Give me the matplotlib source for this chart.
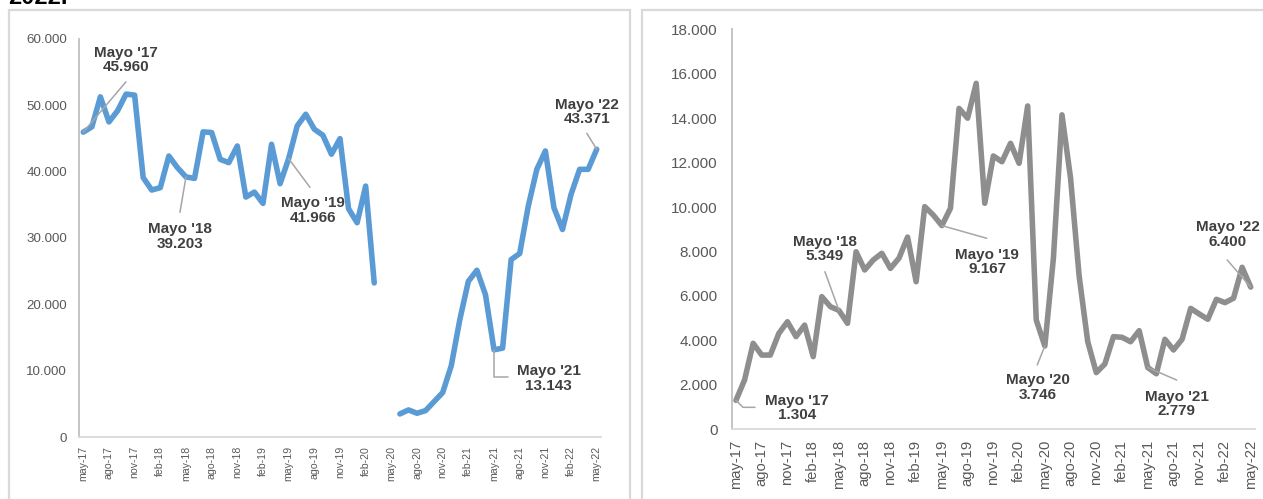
import matplotlib
matplotlib.use("Agg")
import matplotlib.pyplot as plt
from matplotlib.patches import Rectangle
import numpy as np

plt.rcParams['font.family'] = ['Liberation Sans', 'DejaVu Sans']

# ---- categories ----
month_abbr = ["ene", "feb", "mar", "abr", "may", "jun", "jul", "ago", "sep", "oct", "nov", "dic"]
months = []
y, m = 2017, 4
for _ in range(61):
    months.append(f"{month_abbr[m]}-{str(y)[2:]}")
    m += 1
    if m == 12:
        m, y = 0, y + 1

# ---- left series (None = no data) ----
left_values = [45960, 46750, 51280, 47500, 49170, 51690, 51540, 39100, 37230, 37590,
               42360, 40610, 39203, 38990, 46000, 45900, 41860, 41360, 43870, 36170,
               36920, 35210, 44130, 38190, 41966, 46900, 48660, 46400, 45490, 42620,
               44980, 34410, 32300, 37830, 23230, None, None, 3476, 4080, 3580,
               3980, 5340, 6700, 10730, 17680, 23470, 25140, 21460, 13143, 13400,
               26750, 27660, 34800, 40350, 43120, 34560, 31280, 36570, 40350, 40350,
               43371]

# ---- right series ----
right_values = [1304, 2220, 3870, 3340, 3340, 4320, 4840, 4170, 4690, 3270,
                5970, 5520, 5349, 4770, 7990, 7170, 7620, 7920, 7240, 7700,
                8650, 6640, 10020, 9640, 9167, 9945, 14440, 14000, 15570, 10170,
                12300, 12040, 12870, 11970, 14550, 4920, 3746, 7700, 14150, 11300,
                6900, 3950, 2550, 2940, 4170, 4140, 3940, 4440, 2779, 2500,
                4050, 3570, 4050, 5440, 5190, 4950, 5850, 5700, 5900, 7290,
                6400]

# ---- annotated points: (index, label) ----
left_notes = [(0, "Mayo '17\n45.960"), (12, "Mayo '18\n39.203"), (24, "Mayo '19\n41.966"),
              (48, "Mayo '21\n13.143"), (60, "Mayo '22\n43.371")]
right_notes = [(0, "Mayo '17\n1.304"), (12, "Mayo '18\n5.349"), (24, "Mayo '19\n9.167"),
               (36, "Mayo '20\n3.746"), (48, "Mayo '21\n2.779"), (60, "Mayo '22\n6.400")]

# layout: text offset (px), leader-start offset (px), connection style
left_layout = [((42.7, 72.3), (42.7, 50.3), "arc3"),
               ((-6, -59.4), (-6, -35.4), "arc3"),
               ((24.3, -51.7), (21.3, -28.7), "arc3"),
               ((54.8, -28.5), (13.8, -27), "angle,angleA=0,angleB=90,rad=0"),
               ((-9.4, 37.5), (-9.9, 16), "arc3")]
right_layout = [((60.7, -7.7), (19, -7), "angle,angleA=0,angleB=-45,rad=0"),
                ((-14, 61.4), (-14, 38.7), "arc3"),
                ((45.4, -36.4), (44.8, -12.7), "arc3"),
                ((-7.2, -41.4), (-7.6, -18.9), "arc3"),
                ((29.2, -36.5), (28.9, -12.5), "arc3"),
                ((-23, 52.4), (-23.5, 27.1), "arc3")]

W, H = 1263, 499
fig = plt.figure(figsize=(W / 100, H / 100), dpi=100)

# panel frames
frame_col = "#d9d9d9"
fig.add_artist(Rectangle((9 / W, -0.05), (630 - 9) / W, (499 - 10) / H + 0.05,
                         transform=fig.transFigure, fill=False, ec=frame_col, lw=1.6))
fig.add_artist(Rectangle((642 / W, -0.05), 0.5, (499 - 10) / H + 0.05,
                         transform=fig.transFigure, fill=False, ec=frame_col, lw=1.6))
fig.text(8 / W, 1 - 4 / H, "2022.", fontsize=17, fontweight="bold", color="#000000",
         va="baseline", ha="left")

axL = fig.add_axes([79 / W, (H - 437) / H, 522 / W, 398 / H])
axR = fig.add_axes([731.7 / W, (H - 429.3) / H, 523.3 / W, 400 / H])

x = np.arange(len(months))
lv = np.array([np.nan if v is None else v for v in left_values], dtype=float)
rv = np.array(right_values, dtype=float)

axL.plot(x, lv, color="#5B9BD5", lw=4.0, solid_joinstyle="round", solid_capstyle="round")
axR.plot(x, rv, color="#8E8E8E", lw=4.0, solid_joinstyle="round", solid_capstyle="round")


def fmt(v):
    return "0" if v == 0 else f"{int(v):,}".replace(",", ".")


def style(ax, ymax, step, yfs, xfs, ypad, xpad):
    ax.set_xlim(-0.5, len(months) - 0.5)
    ax.set_ylim(0, ymax)
    yt = np.arange(0, ymax + 1, step)
    ax.set_yticks(yt)
    ax.set_yticklabels([fmt(v) for v in yt], fontsize=yfs, color="#595959")
    ax.set_xticks(x[::3])
    ax.set_xticklabels(months[::3], rotation=90, fontsize=xfs, color="#595959")
    for s in ["top", "right"]:
        ax.spines[s].set_visible(False)
    ax.spines["left"].set_color("#bfbfbf")
    ax.spines["bottom"].set_color("#d9d9d9")
    ax.spines["left"].set_linewidth(1.3)
    ax.spines["bottom"].set_linewidth(1.3)
    ax.tick_params(axis="y", length=0, pad=ypad)
    ax.tick_params(axis="x", length=0, pad=xpad)
    ax.patch.set_alpha(0)


style(axL, 60000, 10000, 9.6, 7.6, 8.6, 6.5)
style(axR, 18000, 2000, 11, 10.6, 10, 7.7)


def notes(ax, vals, items, layout):
    for (i, label), (toff, loff, cs) in zip(items, layout):
        ax.annotate("", xy=(i, vals[i]), xytext=loff, textcoords="offset pixels",
                    arrowprops=dict(arrowstyle="-", color="#a6a6a6", lw=1.1,
                                    shrinkA=0, shrinkB=0, connectionstyle=cs))
        ax.annotate(label, xy=(i, vals[i]), xytext=toff, textcoords="offset pixels",
                    ha="center", va="center", fontsize=11, fontweight="bold",
                    color="#404040", linespacing=1.05)


notes(axL, lv, left_notes, left_layout)
notes(axR, rv, right_notes, right_layout)

fig.savefig("out.png", dpi=100)
